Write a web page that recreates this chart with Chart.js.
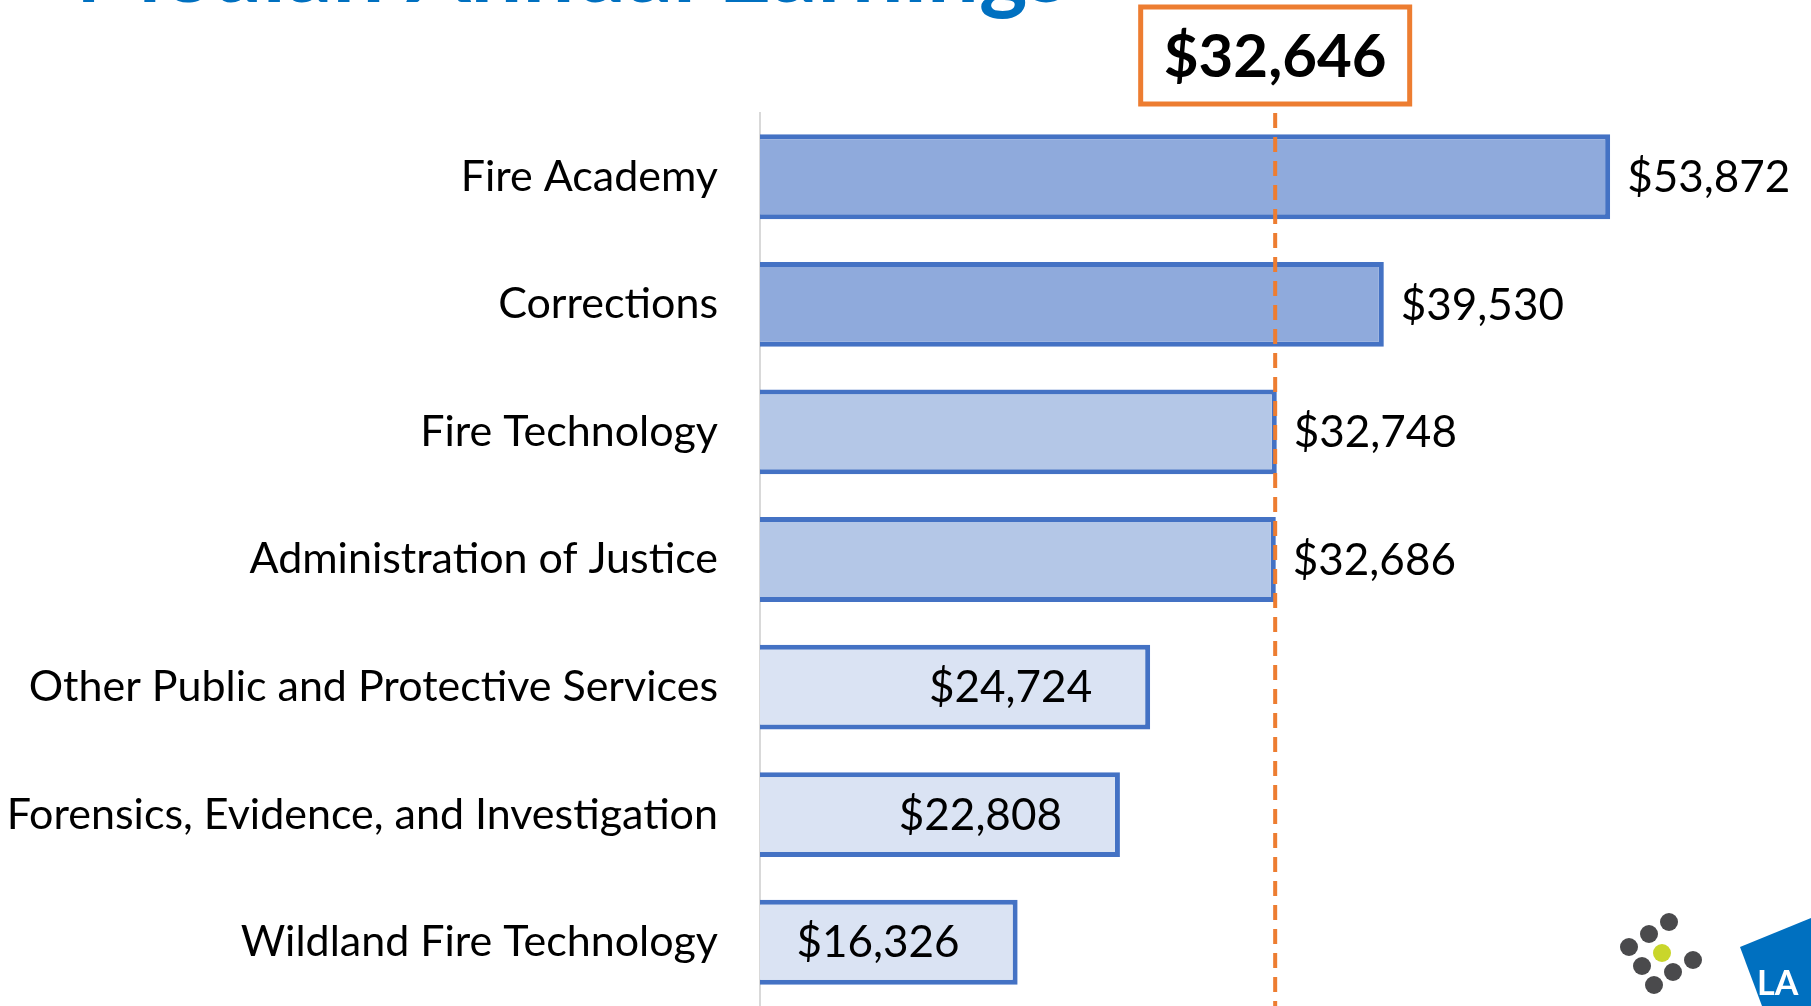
<!DOCTYPE html>
<html>
<head>
<meta charset="utf-8">
<script src="https://cdn.jsdelivr.net/npm/chart.js@4"></script>
<style>
  html, body { margin: 0; padding: 0; background: #ffffff; }
  #wrap { width: 1811px; height: 1006px; position: relative; }
</style>
</head>
<body>
<div id="wrap"><canvas id="c" width="1811" height="1006"></canvas></div>
<script>
const titleText = 'Median Annual Earnings';
const categories = [
  'Fire Academy',
  'Corrections',
  'Fire Technology',
  'Administration of Justice',
  'Other Public and Protective Services',
  'Forensics, Evidence, and Investigation',
  'Wildland Fire Technology'
];
const earnings = [53872, 39530, 32748, 32686, 24724, 22808, 16326];
const medianEarnings = 32646;
const valueLabels = ['$53,872', '$39,530', '$32,748', '$32,686', '$24,724', '$22,808', '$16,326'];
const medianLabel = '$32,646';

const fillColors = ['#8FAADC', '#8FAADC', '#B4C7E7', '#B4C7E7', '#DAE3F3', '#DAE3F3', '#DAE3F3'];
const FONT = 'Lato, "Open Sans", sans-serif';
const LABEL_SIZE = 43;
const VALUE_SIZE = 44;

const overlay = {
  id: 'overlay',
  beforeDraw(chart) {
    const ctx = chart.ctx;
    ctx.save();
    ctx.fillStyle = '#ffffff';
    ctx.fillRect(0, 0, chart.width, chart.height);
    // title (cut off at top)
    ctx.fillStyle = '#0070C0';
    ctx.font = 'bold 92px ' + FONT;
    ctx.textAlign = 'right';
    ctx.textBaseline = 'alphabetic';
    ctx.fillText(titleText, 1068, 2);
    ctx.restore();
  },
  afterDatasetsDraw(chart) {
    const ctx = chart.ctx;
    const xs = chart.scales.x;
    const area = chart.chartArea;
    const meta = chart.getDatasetMeta(0);
    ctx.save();
    // value labels
    ctx.fillStyle = '#000000';
    ctx.font = VALUE_SIZE + 'px ' + FONT;
    ctx.textBaseline = 'middle';
    meta.data.forEach((bar, i) => {
      const v = earnings[i];
      if (v > medianEarnings) {
        ctx.textAlign = 'left';
        ctx.fillText(valueLabels[i], bar.x + 17, bar.y + 1);
      } else {
        ctx.textAlign = 'right';
        ctx.fillText(valueLabels[i], bar.x - 58, bar.y + 1);
      }
    });
    // median dashed line
    const mx = xs.getPixelForValue(medianEarnings);
    ctx.strokeStyle = '#ED7D31';
    ctx.lineWidth = 4;
    ctx.setLineDash([15, 9]);
    ctx.beginPath();
    ctx.moveTo(mx, area.top);
    ctx.lineTo(mx, area.bottom);
    ctx.stroke();
    ctx.setLineDash([]);
    // median box
    const bw = 269, bh = 97;
    ctx.fillStyle = '#ffffff';
    ctx.fillRect(mx - bw / 2, 7, bw, bh);
    ctx.lineWidth = 5;
    ctx.strokeRect(mx - bw / 2, 7, bw, bh);
    ctx.fillStyle = '#000000';
    ctx.font = 'bold 60px ' + FONT;
    ctx.textAlign = 'center';
    ctx.textBaseline = 'middle';
    ctx.fillText(medianLabel, mx, 58);
    // logo dots
    const dots = [[1669,922],[1649,934],[1629,947],[1642,966],[1693,960],[1673,972],[1654,985]];
    ctx.fillStyle = '#4A4A4C';
    dots.forEach(d => { ctx.beginPath(); ctx.arc(d[0], d[1], 9, 0, Math.PI * 2); ctx.fill(); });
    ctx.fillStyle = '#C9D62B';
    ctx.beginPath(); ctx.arc(1662, 953, 9, 0, Math.PI * 2); ctx.fill();
    // blue logo shape
    ctx.fillStyle = '#0070C0';
    ctx.beginPath();
    ctx.moveTo(1740, 947);
    ctx.lineTo(1811, 918);
    ctx.lineTo(1811, 1006);
    ctx.lineTo(1762, 1006);
    ctx.closePath();
    ctx.fill();
    ctx.fillStyle = '#ffffff';
    ctx.font = 'bold 34px ' + FONT;
    ctx.textAlign = 'left';
    ctx.textBaseline = 'alphabetic';
    ctx.fillText('LA', 1757, 995);
    ctx.restore();
  }
};

new Chart(document.getElementById('c'), {
  type: 'bar',
  data: {
    labels: categories,
    datasets: [{
      data: earnings,
      backgroundColor: fillColors,
      borderColor: '#4472C4',
      borderWidth: 5,
      categoryPercentage: 1.0,
      barPercentage: 0.665
    }]
  },
  options: {
    indexAxis: 'y',
    responsive: false,
    animation: false,
    layout: { padding: { top: 113, right: 0, bottom: 0, left: 0 } },
    plugins: { legend: { display: false }, tooltip: { enabled: false } },
    scales: {
      x: {
        display: false,
        min: 0,
        max: 66600
      },
      y: {
        grid: { display: false, drawTicks: false },
        border: { display: true, color: '#D9D9D9', width: 2 },
        ticks: {
          color: '#000000',
          font: { family: FONT, size: LABEL_SIZE },
          padding: 42
        },
        afterFit(scale) {
          scale.width = 760;
          scale.paddingTop = 0;
          scale.paddingBottom = 0;
        }
      }
    }
  },
  plugins: [overlay]
});
</script>
</body>
</html>
